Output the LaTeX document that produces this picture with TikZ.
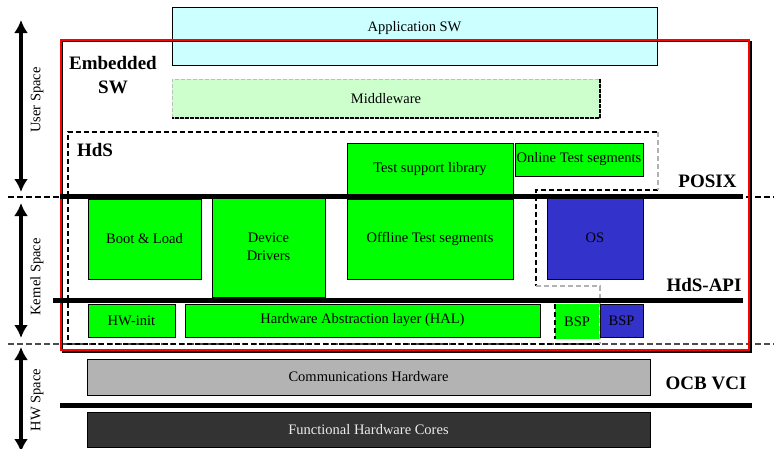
\documentclass[tikz,border=0pt]{standalone}
\usepackage{fontspec}
\setmainfont{Liberation Serif}
\usepackage{tikz}
\usetikzlibrary{arrows.meta}
\usetikzlibrary{calc}
\definecolor{appcyan}{HTML}{CCFFFF}
\definecolor{midgreen}{HTML}{CCFFCC}
\definecolor{hwgreen}{HTML}{00FF00}
\definecolor{osblue}{HTML}{3333CC}
\definecolor{commgray}{HTML}{B3B3B3}
\definecolor{coregray}{HTML}{333333}
\tikzset{
	block/.style={draw=black, line width=1pt, inner sep=0pt, outer sep=0pt,
		font=\fontsize{14.5}{18}\selectfont, align=center},
	appbox/.style={block, fill=appcyan},
	midbox/.style={block, fill=midgreen, draw=gray!50, dash pattern=on 4pt off 2pt, line width=0.6pt},
	greenbox/.style={block, fill=hwgreen},
	bluebox/.style={block, fill=osblue},
	commbox/.style={block, fill=commgray},
	corebox/.style={block, fill=coregray, text=black!8},
	layerline/.style={draw=black, line width=5pt},
	spaceline/.style={draw=black, dash pattern=on 6pt off 3pt, line width=2pt},
	hdsline/.style={draw=black, dash pattern=on 5pt off 3pt, line width=1.5pt},
	spacearrow/.style={draw=black, line width=4pt,
		{Latex[length=13pt,width=14pt]}-{Latex[length=13pt,width=14pt]}},
	spacelabel/.style={rotate=90, font=\fontsize{14.5}{17}\selectfont},
	layertag/.style={font=\fontsize{19}{24}\selectfont\bfseries, align=center},
}

\begin{document}
\begin{tikzpicture}[x=1pt, y=-1pt]
	\useasboundingbox (0,0) rectangle (774,448);
	% space boundaries
	\draw[spaceline] (8,197) -- (774,197);
	\draw[spaceline, draw=black!70] (8,344) -- (774,344);
	\draw[spacearrow] (21,20) -- (21,192);
	\draw[spacearrow] (21,203) -- (21,338);
	\draw[spacearrow] (21,347) -- (21,452);
	\node[spacelabel] (userlbl) at (37,100) {User Space};
	\node[spacelabel] (kernellbl) at (37,277) {Kernel Space};
	\node[spacelabel] (hwlbl) at (37,400) {HW Space};
	% software
	\node[appbox, minimum width=485pt, minimum height=58pt] (app) at (414.5,36) {};
	\node[font=\fontsize{14.5}{18}\selectfont] (applbl) at ($(app.north)+(0,21)$) {Application SW};
	\draw[black, line width=1.5pt] (62.5,41.5) rectangle (751,352);
	\draw[red, line width=2pt] (61,40) rectangle (749,350);
	\node[layertag] (embsw) at (113,75) {Embedded\\SW};
	\node[midbox, minimum width=428pt, minimum height=39pt] (mid) at (386,98.5) {Middleware};
	\draw[black, line width=1.5pt, dash pattern=on 4pt off 1pt] (mid.north east) -- (mid.south east) -- (mid.south west);
	% HdS region
	\draw[hdsline] (658,190) -- (536,190) -- (536,286);
	\draw[hdsline] (600,344) -- (68,344) -- (68,132) -- (658,132);
	\draw[hdsline, draw=gray!60] (658,132) -- (658,190);
	\draw[hdsline, draw=gray!60] (536,286) -- (600,286) -- (600,344);
	\node[layertag] (hds) at (95,150) {HdS};
	\node[greenbox, minimum width=166pt, minimum height=53pt] (tsl) at (430,169.5) {Test support library};
	\node[greenbox, minimum width=128pt, minimum height=33pt] (online) at (579,159.5) {Online Test segments};
	\node[greenbox, minimum width=113pt, minimum height=80pt] (boot) at (144.5,239) {Boot \& Load};
	\node[greenbox, minimum width=113pt, minimum height=100pt] (drv) at (268.5,247) {Device\\Drivers};
	\node[greenbox, minimum width=166pt, minimum height=80pt] (offline) at (430,239) {Offline Test segments};
	\node[bluebox, minimum width=96pt, minimum height=82pt] (os) at (595,238) {OS};
	\node[greenbox, minimum width=87pt, minimum height=33pt] (hwinit) at (131.5,320.5) {HW-init};
	\node[greenbox, minimum width=355pt, minimum height=33pt] (hal) at (362.5,320.5) {Hardware Abstraction layer (HAL)};
	\node[greenbox, draw=none, minimum width=44pt, minimum height=35pt] (bspg) at (577,321.5) {BSP};
	\draw[hdsline] (bspg.north west) -- (bspg.south west);
	\node[bluebox, minimum width=43pt, minimum height=33pt] (bspb) at (621.5,320.5) {BSP};
	% hardware
	\node[commbox, minimum width=563pt, minimum height=36pt] (comm) at (368.5,377) {Communications Hardware};
	\node[corebox, minimum width=563pt, minimum height=35pt] (cores) at (368.5,429.5) {Functional Hardware Cores};
	% interfaces
	\draw[layerline] (60,196.5) -- (743,196.5);
	\draw[layerline] (53,300) -- (743,300);
	\draw[layerline] (60,405) -- (752,405);
	\node[layertag, anchor=east] (posix) at (740,181) {POSIX};
	\node[layertag, anchor=east] (hdsapi) at (745,285) {HdS-API};
	\node[layertag, anchor=east] (ocb) at (750,383) {OCB VCI};
\end{tikzpicture}
\end{document}
